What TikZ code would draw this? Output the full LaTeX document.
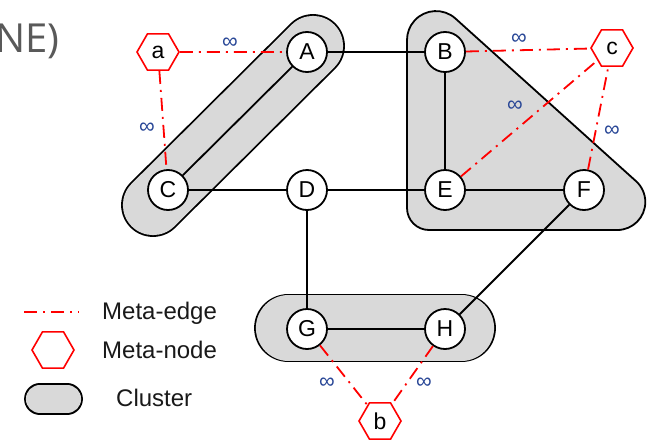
\documentclass[tikz,border=0pt]{standalone}
\usepackage{fontspec}
\setmainfont{Liberation Sans}
\newfontfamily\headfont{Open Sans}
\usetikzlibrary{shapes.geometric}

\definecolor{clusterfill}{RGB}{217,217,217}
\definecolor{metared}{RGB}{255,0,0}
\definecolor{infblue}{RGB}{40,70,150}
\definecolor{headgray}{RGB}{89,89,89}

\begin{document}
\begin{tikzpicture}[x=1pt,y=-1pt,
  vertex/.style={circle,draw=black,line width=1.8pt,fill=white,
    minimum size=40pt,inner sep=0pt,font=\fontsize{23}{23}\selectfont},
  metanode/.style={regular polygon,regular polygon sides=6,draw=metared,
    line width=1.6pt,fill=white,minimum size=42pt,inner sep=0pt,
    font=\fontsize{23}{23}\selectfont},
  edge/.style={line width=1.8pt,draw=black},
  metaedge/.style={line width=1.8pt,draw=metared,
    dash pattern=on 13pt off 6pt on 2pt off 6pt},
  inf/.style={text=infblue,font=\fontsize{22}{22}\selectfont,inner sep=0pt},
  legendtext/.style={anchor=base west,inner sep=0pt,
    font=\fontsize{24}{24}\selectfont,text=black!90},
  clusterrim/.style={line width=#1,line cap=round,draw=black},
  clusterbody/.style={line width=#1,line cap=round,draw=clusterfill},
  cluster/.style={line width=1.8pt,draw=black,fill=clusterfill}
]
\useasboundingbox (0,0) rectangle (647,439);
\clip (0,0) rectangle (647,439);

% heading fragment
\node[anchor=base east,inner sep=0pt,text=headgray,
  font=\headfont\fontsize{40}{40}\selectfont] (heading) at (60,52) {NE)};

% clusters
\draw[clusterrim=63.8pt] (313,46) -- (153,205);
\draw[clusterbody=60.2pt] (313,46) -- (153,205);
\draw[clusterrim=68.8pt] (288.5,328) -- (461.5,328);
\draw[clusterbody=65.2pt] (288.5,328) -- (461.5,328);
\filldraw[cluster] (407,40) -- (407,208) arc[start angle=180,end angle=90,radius=22]
  -- (617.3,230) arc[start angle=90,end angle=-48,radius=28]
  -- (455.4,18.5) arc[start angle=-48,end angle=-180,radius=29] -- cycle;

% graph nodes
\node[vertex] (A) at (307,52) {A};
\node[vertex] (B) at (445,52) {B};
\node[vertex] (C) at (168,190) {C};
\node[vertex] (D) at (307,190) {D};
\node[vertex] (E) at (445,190) {E};
\node[vertex] (F) at (584,190) {F};
\node[vertex] (G) at (307,329) {G};
\node[vertex] (H) at (445,329) {H};

% meta nodes
\node[metanode] (a) at (158,52) {a};
\node[metanode] (c) at (612,48) {c};
\node[metanode] (b) at (380,421) {b};

% graph edges
\draw[edge] (A) -- (B);
\draw[edge] (A) -- (C);
\draw[edge] (C) -- (D);
\draw[edge] (D) -- (E);
\draw[edge] (B) -- (E);
\draw[edge] (E) -- (F);
\draw[edge] (D) -- (G);
\draw[edge] (G) -- (H);
\draw[edge] (F) -- (H);

% meta edges
\draw[metaedge] (a) -- (A);
\draw[metaedge] (a) -- (C);
\draw[metaedge] (B) -- (c);
\draw[metaedge] (E) -- (c);
\draw[metaedge] (F) -- (c);
\draw[metaedge] (G) -- (b);
\draw[metaedge] (H) -- (b);

% infinite weights
\node[inf] (waA) at (230,43) {∞};
\node[inf] (waC) at (147,128) {∞};
\node[inf] (wBc) at (519,39) {∞};
\node[inf] (wEc) at (515,106) {∞};
\node[inf] (wFc) at (612,131) {∞};
\node[inf] (wGb) at (327,383) {∞};
\node[inf] (wHb) at (424,383) {∞};

% legend
\coordinate (le1) at (24,312);
\coordinate (le2) at (79,312);
\draw[metaedge] (le1) -- (le2);
\node[legendtext] (lmeta) at (102,319) {Meta-edge};
\node[metanode] (lhex) at (53,350) {};
\node[legendtext] (lnode) at (102,358) {Meta-node};
\draw[clusterrim=31.8pt] (40,399) -- (67,399);
\draw[clusterbody=28.2pt] (40,399) -- (67,399);
\node[legendtext] (lclus) at (116,406) {Cluster};
\end{tikzpicture}
\end{document}
